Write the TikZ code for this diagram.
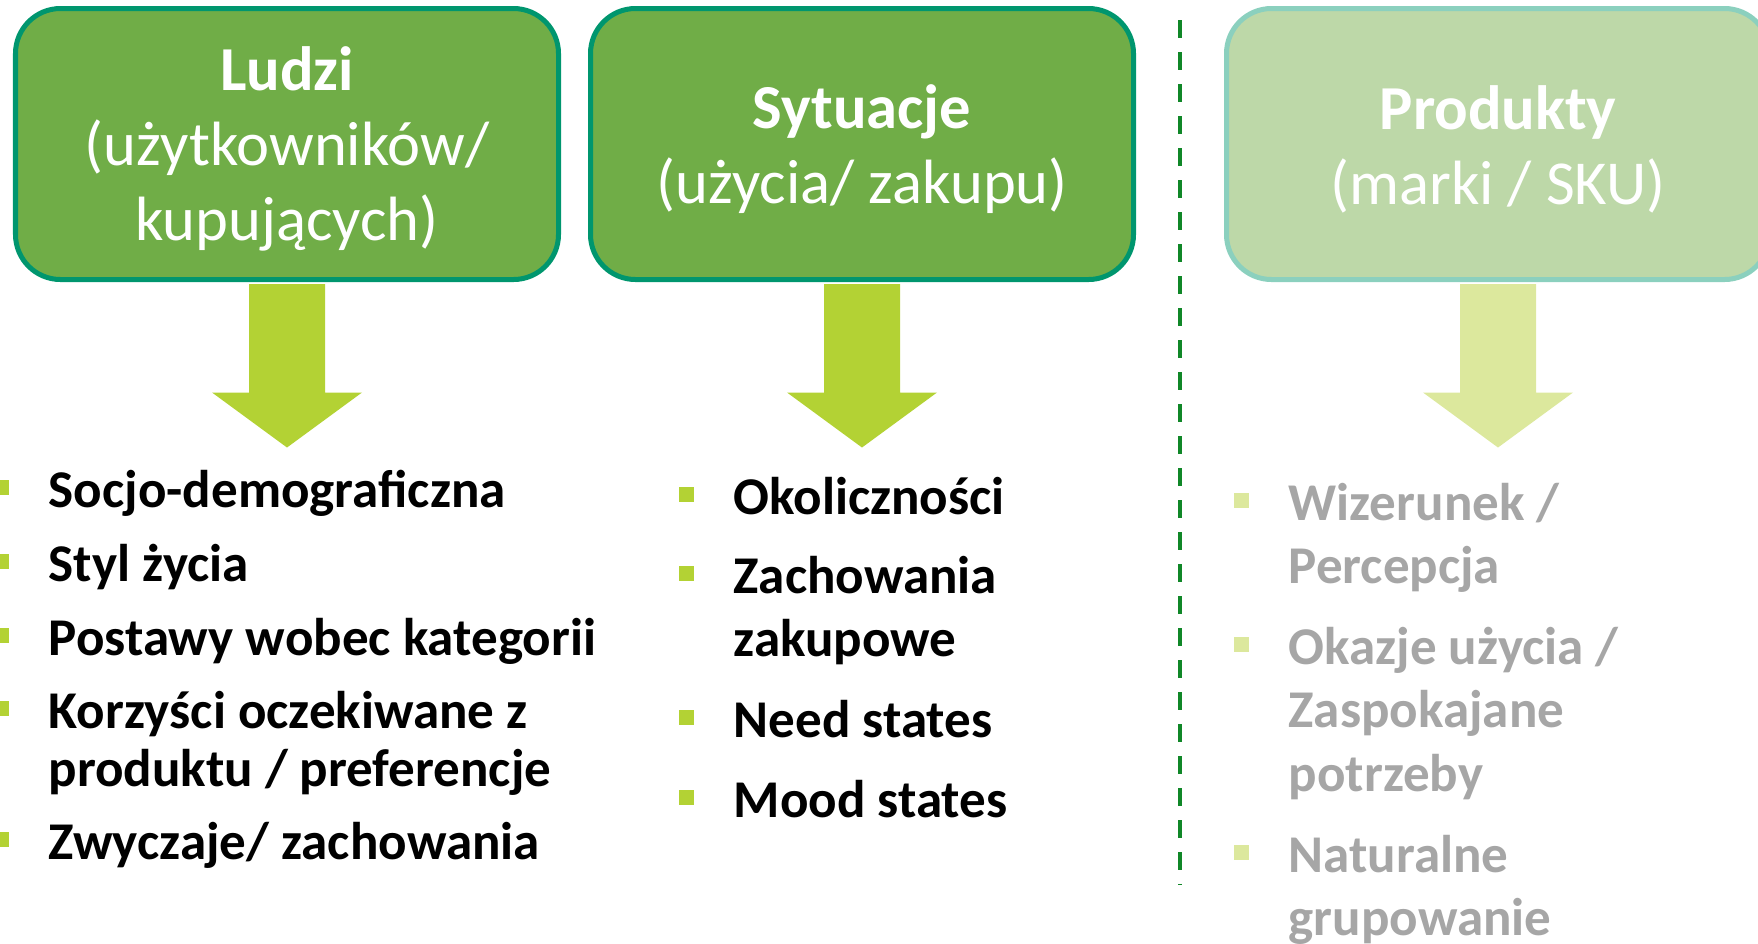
\documentclass[tikz,border=0pt]{standalone}
\usepackage{fontspec}
\setmainfont{Carlito}
\usetikzlibrary{calc}
\definecolor{boxgreen}{RGB}{112,173,71}
\definecolor{boxedge}{RGB}{0,150,110}
\definecolor{palefill}{RGB}{189,216,168}
\definecolor{paleedge}{RGB}{139,208,190}
\definecolor{lime}{RGB}{179,210,52}
\definecolor{palelime}{RGB}{220,232,157}
\definecolor{sepgreen}{RGB}{16,135,40}
\definecolor{fadegray}{RGB}{166,166,166}
% item text with its first line as baseline
\newcommand{\itemlines}[1]{\begin{tabular}[t]{@{}l@{}}#1\end{tabular}}
\tikzset{
  segbox/.style={draw=boxedge,fill=boxgreen,line width=0.05cm,rounded corners=0.45cm,
    minimum width=5.43cm,minimum height=2.71cm},
  fadedbox/.style={segbox,draw=paleedge,fill=palefill},
  boxtxt/.style={align=center,text=white,yshift=-0.05cm,
    font={\fontsize{17.8}{21.3}\selectfont}},
  bigarrow/.style={fill=lime,draw=none},
  fadedarrow/.style={fill=palelime,draw=none},
  itemtxt/.style={anchor=base west,inner sep=0pt,
    font={\fontsize{15.1}{18.2}\selectfont\bfseries}},
  tightitem/.style={itemtxt,font={\fontsize{15.1}{16.5}\selectfont\bfseries}},
  fadeditem/.style={itemtxt,text=fadegray},
  sq/.style={fill=lime,inner sep=0pt,minimum size=0.155cm},
  fadedsq/.style={sq,fill=palelime},
  divider/.style={draw=sepgreen,line width=0.04cm,dash pattern=on 0.18cm off 0.14cm}
}

\begin{document}
\begin{tikzpicture}[x=1cm,y=-1cm]
  \useasboundingbox (0,0) rectangle (17.58,9.43);
  \clip (0,0) rectangle (17.58,9.43);
  % the three segmentation bases
  \node[segbox,label={[boxtxt]center:{\textbf{Ludzi}\\(użytkowników/\\kupujących)}}] (ludzi) at (2.87,1.44) {};
  \node[segbox,label={[boxtxt]center:{\textbf{Sytuacje}\\(użycia/ zakupu)}}] (sytuacje) at (8.62,1.44) {};
  \node[fadedbox,label={[boxtxt]center:{\textbf{Produkty}\\(marki / SKU)}}] (produkty) at (14.98,1.44) {};
  \foreach \b/\s in {ludzi/bigarrow,sytuacje/bigarrow,produkty/fadedarrow}
    \fill[\s] ($(\b.south)+(-0.38,0.02)$) -- ++(0,1.085) -- ++(-0.37,0)
      -- ($(\b.south)+(0,1.655)$) -- ++(0.75,-0.55) -- ++(-0.37,0) -- ++(0,-1.085) -- cycle;
  \coordinate (septop) at (11.80,0.20); \coordinate (sepbot) at (11.80,8.84);
  \draw[divider] (septop) -- (sepbot);
  % people
  \node[tightitem] (l1) at (0.48,5.07) {Socjo-demograficzna};
  \node[tightitem] (l2) at (0.48,5.81) {Styl życia};
  \node[tightitem] (l3) at (0.48,6.55) {Postawy wobec kategorii};
  \node[tightitem] (l4) at (0.48,7.28) {\itemlines{Korzyści oczekiwane z\\produktu / preferencje}};
  \node[tightitem] (l5) at (0.48,8.59) {Zwyczaje/ zachowania};
  % situations
  \node[itemtxt] (m1) at (7.33,5.14) {Okoliczności};
  \node[itemtxt] (m2) at (7.33,5.93) {\itemlines{Zachowania\\zakupowe}};
  \node[itemtxt] (m3) at (7.33,7.37) {Need states};
  \node[itemtxt] (m4) at (7.33,8.17) {Mood states};
  % products
  \node[fadeditem] (r1) at (12.88,5.20) {\itemlines{Wizerunek /\\Percepcja}};
  \node[fadeditem] (r2) at (12.88,6.64) {\itemlines{Okazje użycia /\\Zaspokajane\\potrzeby}};
  \node[fadeditem] (r3) at (12.88,8.72) {\itemlines{Naturalne\\grupowanie}};
  \foreach \n in {l1,l2,l3,l4,l5,m1,m2,m3,m4}
    \node[sq] (sq\n) at ([xshift=-0.465cm,yshift=0.195cm]\n.base west) {};
  \foreach \n in {r1,r2,r3}
    \node[fadedsq] (sq\n) at ([xshift=-0.465cm,yshift=0.195cm]\n.base west) {};
\end{tikzpicture}
\end{document}
